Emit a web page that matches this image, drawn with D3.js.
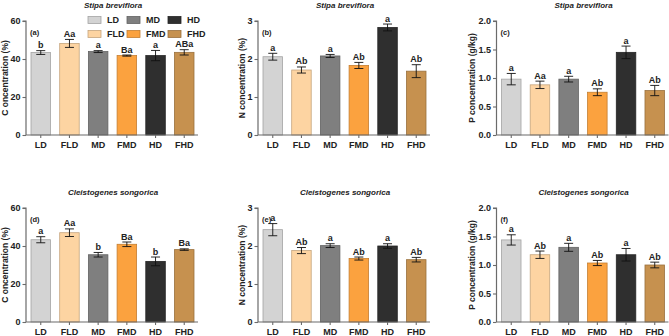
<!DOCTYPE html>
<html><head><meta charset="utf-8">
<script src="https://cdn.jsdelivr.net/npm/d3@7"></script>
<style>body{margin:0;background:#fff}svg{display:block;font-family:"Liberation Sans",Arial,sans-serif}</style>
</head><body><svg id="c" width="669" height="336"></svg>
<script>
const categories = ["LD","FLD","MD","FMD","HD","FHD"];
const colors = ["#d3d3d3","#fdd4a2","#7f7f7f","#fba23f","#2f2f2f","#c6914f"];
const legendOrder = ["LD","MD","HD","FLD","FMD","FHD"];

const cValsA = [43.4,48.2,43.9,41.8,41.8,43.5];
const cErrA  = [1.0,2.1,0.5,0.3,2.7,1.4];
const cLabA  = ["b","Aa","a","Ba","a","ABa"];
const nValsB = [2.06,1.71,2.08,1.83,2.83,1.68];
const nErrB  = [0.09,0.08,0.04,0.08,0.09,0.17];
const nLabB  = ["a","Ab","a","Ab","a","Ab"];
const pValsC = [0.98,0.88,0.98,0.75,1.45,0.78];
const pErrC  = [0.10,0.065,0.05,0.06,0.11,0.09];
const pLabC  = ["a","Aa","a","Ab","a","Ab"];
const cValsD = [43.3,47.0,35.4,40.9,31.9,38.1];
const cErrD  = [1.6,2.0,1.2,1.2,2.3,0.4];
const cLabD  = ["a","Aa","b","Ba","b","Ba"];
const nValsE = [2.43,1.88,2.01,1.67,2.0,1.64];
const nErrE  = [0.16,0.08,0.05,0.04,0.06,0.06];
const nLabE  = ["a","Ab","a","Ab","a","Ab"];
const pValsF = [1.44,1.18,1.31,1.035,1.18,1.0];
const pErrF  = [0.09,0.065,0.07,0.045,0.11,0.05];
const pLabF  = ["a","Ab","a","Ab","a","Ab"];

const cTicks = [0,20,40,60];
const nTicks = [0,1,2,3];
const pTicks = [0,0.5,1.0,1.5,2.0];

const svg = d3.select("#c");
const colorScale = d3.scaleOrdinal().domain(categories).range(colors);

const panels = [
 {x:26, top:21, bot:135, max:60, ticks:cTicks, fmt:d3.format("d"), vals:cValsA, err:cErrA, lab:cLabA, tag:"(a)", ytitle:"C oncentration (%)", title:"Stipa breviflora", tx:5},
 {x:258, top:21, bot:135, max:3, ticks:nTicks, fmt:d3.format("d"), vals:nValsB, err:nErrB, lab:nLabB, tag:"(b)", ytitle:"N concentration (%)", title:"Stipa breviflora", tx:242},
 {x:496.5, top:21, bot:135, max:2, ticks:pTicks, fmt:d3.format(".1f"), vals:pValsC, err:pErrC, lab:pLabC, tag:"(c)", ytitle:"P concentration (g/kg)", title:"Stipa breviflora", tx:472},
 {x:26, top:208, bot:322, max:60, ticks:cTicks, fmt:d3.format("d"), vals:cValsD, err:cErrD, lab:cLabD, tag:"(d)", ytitle:"C oncentration (%)", title:"Cleistogenes songorica", tx:5},
 {x:258, top:208, bot:322, max:3, ticks:nTicks, fmt:d3.format("d"), vals:nValsE, err:nErrE, lab:nLabE, tag:"(e)", ytitle:"N concentration (%)", title:"Cleistogenes songorica", tx:242},
 {x:496.5, top:208, bot:322, max:2, ticks:pTicks, fmt:d3.format(".1f"), vals:pValsF, err:pErrF, lab:pLabF, tag:"(f)", ytitle:"P concentration (g/kg)", title:"Cleistogenes songorica", tx:472}
];

const axisColor = "#6b6b6b";

panels.forEach(p => {
  const g = svg.append("g");
  const xs = d3.scaleBand().domain(categories).range([p.x+5, p.x+168]).paddingInner(0.32).paddingOuter(0);
  const ys = d3.scaleLinear().domain([0,p.max]).range([p.bot,p.top]);

  g.selectAll("rect.bar").data(categories).join("rect")
   .attr("x", d=>xs(d)).attr("width", xs.bandwidth())
   .attr("y", (d,i)=>ys(p.vals[i])).attr("height",(d,i)=>p.bot-ys(p.vals[i]))
   .attr("fill", d=>colorScale(d))
   .attr("stroke", d=>d3.color(colorScale(d)).darker(0.7))
   .attr("stroke-width",0.8);

  categories.forEach((c,i)=>{
    const cx = xs(c)+xs.bandwidth()/2;
    const y1 = ys(p.vals[i]+p.err[i]), y0 = ys(p.vals[i]-p.err[i]);
    g.append("line").attr("x1",cx).attr("x2",cx).attr("y1",y1).attr("y2",y0).attr("stroke","#111").attr("stroke-width",0.9);
    [y1,y0].forEach(yy=>g.append("line").attr("x1",cx-4.5).attr("x2",cx+4.5).attr("y1",yy).attr("y2",yy).attr("stroke","#111").attr("stroke-width",0.9));
    g.append("text").attr("x",cx).attr("y",y1-2.5).attr("text-anchor","middle")
     .attr("font-size",9).attr("font-weight","bold").attr("fill","#222").text(p.lab[i]);
  });

  const ya = d3.axisLeft(ys).tickValues(p.ticks).tickFormat(p.fmt).tickSize(3.5).tickPadding(2);
  const yg = g.append("g").attr("transform",`translate(${p.x},0)`).call(ya);
  yg.select(".domain").attr("stroke",axisColor).attr("stroke-width",1.2).attr("d",`M-3.5,${p.top}H0V${p.bot}`);
  yg.selectAll(".tick line").attr("stroke",axisColor).attr("stroke-width",1.1);
  yg.selectAll(".tick text").attr("font-size",9).attr("font-weight","bold").attr("fill","#222").attr("font-family","Liberation Sans, Arial, sans-serif");

  const xa = d3.axisBottom(xs).tickSize(3).tickPadding(4);
  const xg = g.append("g").attr("transform",`translate(0,${p.bot})`).call(xa);
  xg.select(".domain").attr("stroke",axisColor).attr("stroke-width",1.2).attr("d",`M${p.x},0H${p.x+172}`);
  xg.selectAll(".tick line").attr("stroke",axisColor).attr("stroke-width",1.1);
  xg.selectAll(".tick text").attr("font-size",9).attr("font-weight","bold").attr("fill","#222").attr("font-family","Liberation Sans, Arial, sans-serif");

  g.append("text").attr("x",p.x+4).attr("y",p.top+14).attr("font-size",7.5).attr("font-weight","bold").attr("fill","#222").text(p.tag);
  g.append("text").attr("transform",`translate(${p.tx+3},${(p.top+p.bot)/2}) rotate(-90)`)
   .attr("text-anchor","middle").attr("font-size",8.5).attr("font-weight","bold").attr("fill","#222").text(p.ytitle);
  g.append("text").attr("x",p.x+87).attr("y",p.top-13).attr("text-anchor","middle")
   .attr("font-size",8).attr("font-weight","bold").attr("font-style","italic").attr("fill","#222").text(p.title);
});

const lg = svg.append("g");
legendOrder.forEach((c,i)=>{
  const col = i%3, row = Math.floor(i/3);
  const lx = [88,127,168][col], ly = [20,34][row];
  lg.append("rect").attr("x",lx).attr("y",ly-3.5).attr("width",13).attr("height",7)
    .attr("fill",colorScale(c)).attr("stroke",d3.color(colorScale(c)).darker(0.7)).attr("stroke-width",0.8);
  lg.append("text").attr("x",lx+19).attr("y",ly+3.3).attr("font-size",9).attr("font-weight","bold").attr("fill","#222").text(c);
});
</script></body></html>
